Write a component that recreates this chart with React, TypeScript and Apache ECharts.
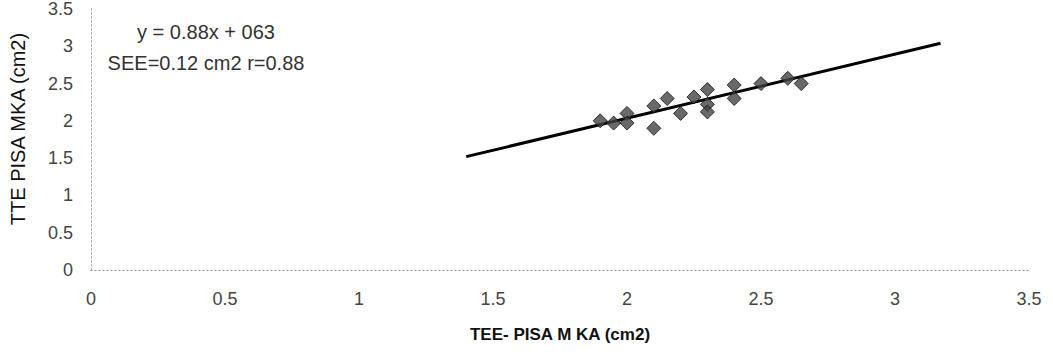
import React, { useEffect, useRef } from "react";
import * as echarts from "echarts";

const teeValues = [1.9, 1.95, 2.0, 2.0, 2.1, 2.1, 2.15, 2.2, 2.25, 2.3, 2.3, 2.3, 2.4, 2.4, 2.5, 2.6, 2.65];
const tteValues = [2.0, 1.97, 2.1, 1.97, 1.9, 2.2, 2.3, 2.1, 2.32, 2.42, 2.22, 2.12, 2.48, 2.3, 2.5, 2.57, 2.5];
const fitLine = [
  [1.4, 1.52],
  [3.17, 3.04],
];
const equationText = "y = 0.88x + 063";
const statsText = "SEE=0.12 cm2 r=0.88";
const xAxisName = "TEE- PISA M KA (cm2)";
const yAxisName = "TTE PISA MKA (cm2)";

const FONT = "'Liberation Sans', Arial, sans-serif";

export default function App() {
  const ref = useRef<HTMLDivElement>(null);
  useEffect(() => {
    if (!ref.current) return;
    const chart = echarts.init(ref.current, undefined, { renderer: "svg" });
    const points = teeValues.map((x, i) => [x, tteValues[i]]);
    const dotted = { color: "#a0a0a0", width: 1, type: [1, 3] as any };
    chart.setOption({
      animation: false,
      backgroundColor: "#ffffff",
      grid: { left: 91, right: 24, top: 7.5, bottom: 89 },
      xAxis: [
        {
          type: "value",
          min: 0,
          max: 3.5,
          interval: 0.5,
          name: xAxisName,
          nameLocation: "middle",
          nameGap: 56,
          nameTextStyle: { fontFamily: FONT, fontSize: 17, fontWeight: "bold", color: "#111" },
          axisLine: { show: true, onZero: false, lineStyle: dotted },
          axisTick: { show: false },
          splitLine: { show: false },
          axisLabel: { fontFamily: FONT, fontSize: 18, color: "#444", margin: 20 },
        },
        {
          type: "value",
          position: "top",
          min: 0,
          max: 3.5,
          interval: 0.5,
          axisLine: { show: true, lineStyle: dotted },
          axisTick: { show: false },
          axisLabel: { show: false },
          splitLine: { show: false },
        },
      ],
      yAxis: [
        {
          type: "value",
          min: 0,
          max: 3.5,
          interval: 0.5,
          axisLine: { show: true, onZero: false, lineStyle: dotted },
          axisTick: { show: false },
          splitLine: { show: false },
          axisLabel: { fontFamily: FONT, fontSize: 18, color: "#444", margin: 18 },
        },
        {
          type: "value",
          position: "right",
          min: 0,
          max: 3.5,
          interval: 0.5,
          axisLine: { show: true, lineStyle: dotted },
          axisTick: { show: false },
          axisLabel: { show: false },
          splitLine: { show: false },
        },
      ],
      graphic: [
        {
          type: "text",
          x: 18,
          y: 129,
          rotation: Math.PI / 2,
          style: {
            text: yAxisName,
            fontFamily: FONT,
            fontSize: 20,
            fill: "#111",
            align: "center",
            verticalAlign: "middle",
          },
        },
        {
          type: "text",
          x: 206,
          y: 32,
          style: {
            text: equationText,
            fontFamily: FONT,
            fontSize: 20,
            fill: "#333",
            align: "center",
            verticalAlign: "middle",
          },
        },
        {
          type: "text",
          x: 206,
          y: 63,
          style: {
            text: statsText,
            fontFamily: FONT,
            fontSize: 20,
            fill: "#333",
            align: "center",
            verticalAlign: "middle",
          },
        },
      ],
      series: [
        {
          type: "line",
          data: fitLine,
          showSymbol: false,
          symbol: "none",
          lineStyle: { color: "#000", width: 3 },
          z: 2,
        },
        {
          type: "scatter",
          data: points,
          symbol: "diamond",
          symbolSize: 14,
          itemStyle: { color: "#444", borderColor: "#111", borderWidth: 1 },
          z: 3,
        },
      ],
    });
    return () => chart.dispose();
  }, []);
  return (
    <div
      ref={ref}
      style={{ position: "fixed", left: 0, top: 0, width: 1053, height: 359 }}
    />
  );
}
